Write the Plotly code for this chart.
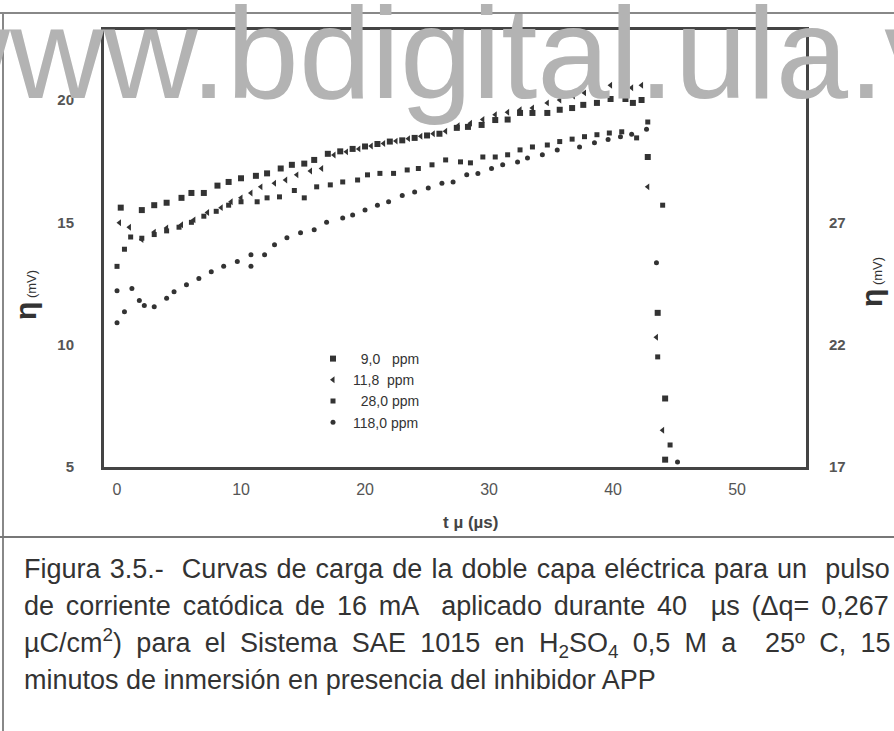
import plotly.graph_objects as go

# ---- data ----
t_9 = [0.3, 2.0, 3.0, 4.0, 5.2, 6.0, 7.0, 8.1, 9.0, 10.0, 11.2, 12.1, 13.2, 14.1, 15.1, 15.9, 17.0, 18.0, 19.0, 20.0,
       21.0, 22.0, 23.0, 24.0, 25.0, 26.0, 27.4, 28.3, 29.4, 30.5, 31.5, 32.5, 33.5, 34.7, 35.7, 36.7, 37.6, 38.7, 39.8, 41.0,
       41.6, 42.3, 42.8, 43.6, 44.2, 44.2]
v_9 = [15.6, 15.5, 15.7, 15.8, 16.0, 16.2, 16.2, 16.5, 16.65, 16.8, 16.9, 17.0, 17.2, 17.35, 17.4, 17.55, 17.8, 17.9, 18.0, 18.1,
       18.2, 18.3, 18.35, 18.45, 18.55, 18.62, 18.86, 18.9, 18.98, 19.18, 19.2, 19.47, 19.47, 19.47, 19.6, 19.67, 19.8, 19.88, 20.04, 20.04,
       19.88, 20.0, 17.67, 11.3, 7.8, 5.3]

t_11 = [0.2, 1.0, 2.0, 3.0, 4.0, 5.2, 6.2, 7.3, 8.4, 9.2, 10.0, 10.8, 11.6, 12.7, 13.6, 14.5, 15.6, 16.5, 17.5, 18.5,
        19.5, 20.5, 21.5, 22.5, 23.5, 24.5, 25.5, 26.5, 27.5, 28.5, 29.5, 30.5, 31.5, 32.5, 33.5, 34.7, 35.7, 36.8, 37.7, 38.7,
        39.8, 40.7, 41.5, 42.3, 42.8, 43.5, 44.0]
v_11 = [14.98, 14.8, 14.3, 14.6, 14.77, 14.9, 15.1, 15.4, 15.6, 15.84, 16.0, 16.2, 16.45, 16.6, 16.73, 16.94, 17.1, 17.2, 17.75, 17.88,
        18.0, 18.12, 18.22, 18.32, 18.42, 18.52, 18.62, 18.72, 18.95, 19.05, 19.2, 19.4, 19.5, 19.6, 19.67, 19.88, 20.0, 20.16, 20.29, 20.45,
        20.6, 20.7, 20.5, 20.6, 16.45, 10.3, 6.5]

t_28 = [0.0, 0.6, 1.1, 2.0, 3.0, 4.0, 5.0, 6.0, 7.0, 8.0, 9.0, 10.0, 11.3, 12.1, 13.1, 14.3, 15.1, 16.1, 17.2, 18.2,
        19.4, 20.2, 21.2, 22.3, 23.4, 24.3, 25.4, 26.5, 27.7, 28.5, 29.5, 30.5, 31.5, 32.5, 33.5, 34.7, 35.7, 36.7, 37.7, 38.7,
        39.7, 40.7, 41.9, 42.8, 44.0, 43.6, 44.6]
v_28 = [13.2, 13.9, 14.4, 14.35, 14.5, 14.65, 14.8, 15.0, 15.25, 15.45, 15.7, 15.84, 15.84, 16.0, 16.04, 16.3, 16.0, 16.45, 16.53, 16.65,
        16.73, 16.94, 17.0, 17.0, 17.14, 17.2, 17.35, 17.55, 17.47, 17.43, 17.67, 17.67, 17.76, 17.96, 18.08, 18.16, 18.3, 18.4, 18.5, 18.58,
        18.65, 18.7, 18.45, 19.1, 15.7, 9.5, 5.9]

t_118 = [0.0, 0.6, 0.0, 1.2, 1.8, 2.2, 3.0, 4.0, 4.6, 5.6, 6.6, 7.6, 8.6, 9.7, 10.8, 10.8, 11.9, 12.7, 13.7, 14.8,
         15.9, 16.9, 18.2, 19.0, 20.0, 21.0, 21.9, 23.0, 24.0, 25.1, 26.2, 27.1, 28.2, 29.1, 30.2, 31.1, 32.3, 33.1, 34.3, 35.5,
         37.3, 38.5, 39.6, 40.6, 41.5, 42.7, 43.5, 45.2]
v_118 = [10.9, 11.35, 12.2, 12.3, 11.8, 11.6, 11.55, 11.9, 12.16, 12.45, 12.7, 12.98, 13.2, 13.4, 13.67, 13.2, 13.67, 14.08, 14.37, 14.57,
         14.7, 15.0, 15.18, 15.3, 15.5, 15.7, 15.84, 16.1, 16.24, 16.4, 16.6, 16.65, 16.94, 17.0, 17.2, 17.35, 17.47, 17.63, 17.76, 17.96,
         18.08, 18.25, 18.38, 18.5, 18.6, 18.8, 13.35, 5.2]

series_names = ["  9,0   ppm", "11,8  ppm", "  28,0 ppm", "118,0 ppm"]
series_t = [t_9, t_11, t_28, t_118]
series_v = [v_9, v_11, v_28, v_118]
symbols = ["square", "triangle-left", "square", "circle"]
sizes = [6, 6, 5, 5]

left_ticks = [5, 10, 15, 20]
right_ticks = [17, 22, 27]
right_offset = 12
x_ticks = [0, 10, 20, 30, 40, 50]

caption_lines = [
    "Figura 3.5.-  Curvas de carga de la doble capa eléctrica para un  pulso",
    "de corriente catódica de 16 mA  aplicado durante 40  µs (Δq= 0,267",
    "µC/cm<sup>2</sup>) para el Sistema SAE 1015 en H<sub>2</sub>SO<sub>4</sub> 0,5 M a  25º C, 15",
    "minutos de inmersión en presencia del inhibidor APP",
]
caption_word_spacing = [1.6, 4.3, 6.8, 0]

SANS = "Liberation Sans, Arial, sans-serif"

fig = go.Figure()
for name, tt, vv, sym, sz in zip(series_names, series_t, series_v, symbols, sizes):
    fig.add_trace(go.Scatter(x=tt, y=vv, mode="markers", name=name,
                             marker=dict(symbol=sym, size=sz, color="#333333")))
# invisible trace to activate the right axis
fig.add_trace(go.Scatter(x=[None], y=[None], yaxis="y2", showlegend=False, hoverinfo="skip"))

yr = [5.0, 22.86]
fig.update_layout(
    width=894, height=731,
    margin=dict(l=104, r=88, t=30, b=264),
    paper_bgcolor="white", plot_bgcolor="white",
    showlegend=True,
    legend=dict(x=(313 - 104) / 702, y=(467 - 343) / 437, xanchor="left", yanchor="top", bgcolor="rgba(0,0,0,0)",
                font=dict(family=SANS, size=14, color="#333"), tracegroupgap=0, itemwidth=30),
    xaxis=dict(range=[-1.05, 55.56], tickvals=x_ticks, ticks="", showgrid=False, zeroline=False,
               showline=True, mirror=True, linecolor="#444", linewidth=3,
               tickfont=dict(family=SANS, size=16, color="#555"), ticklabelstandoff=6),
    yaxis=dict(range=yr, tickvals=left_ticks, ticks="", showgrid=False, zeroline=False,
               showline=True, mirror=True, linecolor="#444", linewidth=3,
               tickfont=dict(family=SANS, size=15, color="#555", weight="bold"), ticklabelstandoff=24),
    yaxis2=dict(range=[yr[0] + right_offset, yr[1] + right_offset], tickvals=right_ticks, ticks="",
                overlaying="y", side="right", showgrid=False, zeroline=False, showline=False,
                tickfont=dict(family=SANS, size=15, color="#555", weight="bold"), ticklabelstandoff=22),
)


def px_x(p):
    return (p - 104) / 702


def px_y(p):
    return (467 - p) / 437


ann = []
# axis titles
ann.append(dict(text="<b>t µ (µs)</b>", x=px_x(470), y=px_y(522), xref="paper", yref="paper", showarrow=False,
                xanchor="center", yanchor="middle", font=dict(family=SANS, size=17, color="#444")))
eta = "<b><span style='font-size:30px'>η</span></b> <span style='font-size:13px'>(mV)</span>"
ann.append(dict(text=eta, x=px_x(25), y=px_y(295), xref="paper", yref="paper", showarrow=False, textangle=-90,
                xanchor="center", yanchor="middle", font=dict(family=SANS, size=13, color="#333")))
ann.append(dict(text=eta, x=px_x(871), y=px_y(282), xref="paper", yref="paper", showarrow=False, textangle=-90,
                xanchor="center", yanchor="middle", font=dict(family=SANS, size=13, color="#333")))
# caption
cap_y = [569, 606, 643, 680]
for line, py, ws in zip(caption_lines, cap_y, caption_word_spacing):
    txt = f"<span style='word-spacing:{ws}px'>{line}</span>" if ws else line
    ann.append(dict(text=txt, x=px_x(22), y=px_y(py), xref="paper", yref="paper",
                    xanchor="left", yanchor="middle", showarrow=False, align="left",
                    font=dict(family=SANS, size=27, color="#333")))
# watermark
ann.append(dict(text="www.bdigital.ula.ve", x=px_x(468), y=px_y(128), xref="paper", yref="paper",
                xanchor="center", yanchor="bottom", showarrow=False,
                font=dict(family=SANS, size=130, color="#b3b3b3")))
fig.update_layout(annotations=ann)

shapes = [
    dict(type="line", xref="paper", yref="paper", x0=px_x(0), x1=px_x(894), y0=px_y(13), y1=px_y(13),
         line=dict(color="#888", width=2), layer="below"),
    dict(type="line", xref="paper", yref="paper", x0=px_x(3), x1=px_x(3), y0=px_y(13), y1=px_y(731),
         line=dict(color="#888", width=2), layer="below"),
    dict(type="line", xref="paper", yref="paper", x0=px_x(0), x1=px_x(894), y0=px_y(537), y1=px_y(537),
         line=dict(color="#777", width=2), layer="below"),
]
fig.update_layout(shapes=shapes)

fig.write_html("out.html")
